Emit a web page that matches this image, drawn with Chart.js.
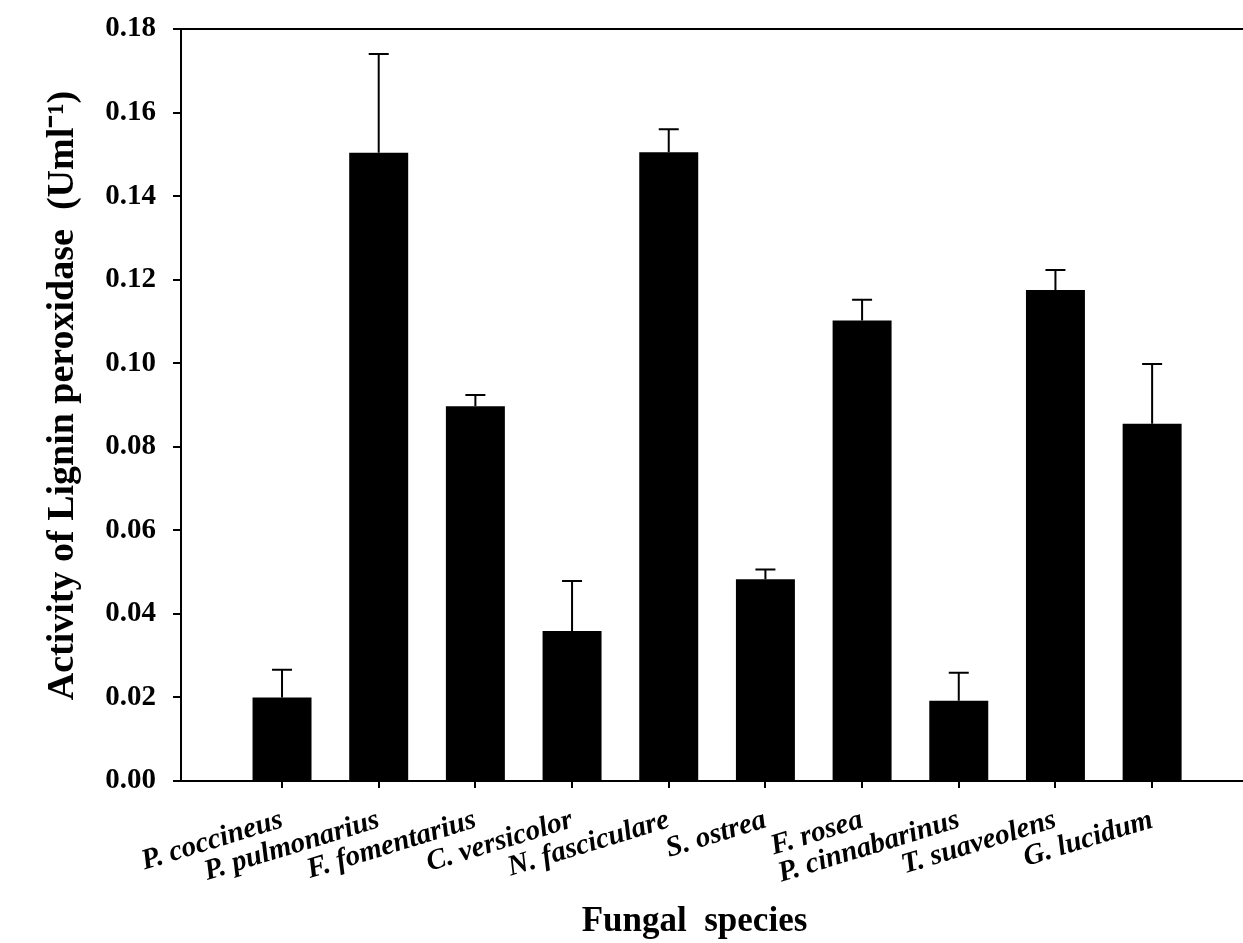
<!DOCTYPE html>
<html>
<head>
<meta charset="utf-8">
<script src="https://cdn.jsdelivr.net/npm/chart.js@4.4.0/dist/chart.umd.min.js"></script>
<style>
  html, body { margin: 0; padding: 0; background: #fff; }
</style>
</head>
<body>
<canvas id="chartLip" width="1243" height="943"></canvas>
<script>
const species = ['P. coccineus', 'P. pulmonarius', 'F. fomentarius', 'C. versicolor', 'N. fasciculare',
  'S. ostrea', 'F. rosea', 'P. cinnabarinus', 'T. suaveolens', 'G. lucidum'];
const lipMeans = [0.0200, 0.1504, 0.0897, 0.0359, 0.1505, 0.0483, 0.1102, 0.0192, 0.1175, 0.0855];
const lipErrors = [0.0066, 0.0236, 0.0027, 0.0120, 0.0055, 0.0023, 0.0050, 0.0067, 0.0048, 0.0143];
const yTicks = [0, 0.02, 0.04, 0.06, 0.08, 0.10, 0.12, 0.14, 0.16, 0.18];

const serif = 'Liberation Serif, Times New Roman, serif';

// upper error bars, drawn through the scales
const errorBars = {
  id: 'errorBars',
  afterDatasetsDraw(chart) {
    const ctx = chart.ctx;
    const xs = chart.scales.x, ys = chart.scales.y;
    ctx.save();
    ctx.strokeStyle = '#000';
    ctx.lineWidth = 2;
    for (let i = 0; i < lipMeans.length; i++) {
      const x = xs.getPixelForValue(i);
      const y0 = ys.getPixelForValue(lipMeans[i]);
      const y1 = ys.getPixelForValue(lipMeans[i] + lipErrors[i]);
      ctx.beginPath();
      ctx.moveTo(x, y0);
      ctx.lineTo(x, y1);
      ctx.moveTo(x - 10, y1);
      ctx.lineTo(x + 10, y1);
      ctx.stroke();
    }
    ctx.restore();
  }
};

const topLine = {
  id: 'topLine',
  afterDraw(chart) {
    const {ctx, chartArea} = chart;
    ctx.save();
    ctx.strokeStyle = '#000';
    ctx.lineWidth = 2;
    ctx.beginPath();
    ctx.moveTo(chartArea.left, chartArea.top);
    ctx.lineTo(chartArea.right, chartArea.top);
    ctx.stroke();
    ctx.restore();
  }
};

new Chart(document.getElementById('chartLip'), {
  type: 'bar',
  data: {
    datasets: [{
      data: species.map((s, i) => ({x: i, y: lipMeans[i]})),
      backgroundColor: '#000',
      borderWidth: 0,
      barPercentage: 0.61,
      categoryPercentage: 1
    }]
  },
  options: {
    responsive: false,
    animation: false,
    layout: { padding: { left: 36, top: 0, right: 0, bottom: 0 } },
    plugins: { legend: { display: false }, tooltip: { enabled: false } },
    scales: {
      x: {
        type: 'linear',
        min: -1.045,
        max: 9.94,
        offset: false,
        afterBuildTicks: s => { s.ticks = species.map((_, i) => ({value: i})); },
        afterFit: s => { s.height = 162; },
        grid: { offset: false, drawOnChartArea: false, tickLength: 7, color: '#000', lineWidth: 2 },
        border: { color: '#000', width: 2 },
        ticks: {
          autoSkip: false, minRotation: 17, maxRotation: 17, padding: 15, color: '#000',
          font: { family: serif, size: 29, weight: 'bold', style: 'italic' },
          callback: v => species[v]
        },
        title: {
          display: true, text: 'Fungal  species    ', color: '#000',
          font: { family: serif, size: 35, weight: 'bold' },
          padding: { top: 0, bottom: 0 }
        }
      },
      y: {
        min: 0,
        max: 0.18,
        afterBuildTicks: s => { s.ticks = yTicks.map(v => ({value: v})); },
        afterFit: s => { s.width = 145; s.paddingTop = 29; s.paddingBottom = 0; },
        grid: { drawOnChartArea: false, tickLength: 8, color: '#000', lineWidth: 2 },
        border: { color: '#000', width: 2 },
        ticks: {
          padding: 17, color: '#000',
          font: { family: serif, size: 29, weight: 'bold' },
          callback: v => v.toFixed(2)
        },
        title: {
          display: true, text: '  Activity of Lignin peroxidase  (Uml⁻¹)', color: '#000',
          font: { family: serif, size: 38, weight: 'bold' },
          padding: { top: 4, bottom: 4 }
        }
      }
    }
  },
  plugins: [errorBars, topLine]
});
</script>
</body>
</html>
